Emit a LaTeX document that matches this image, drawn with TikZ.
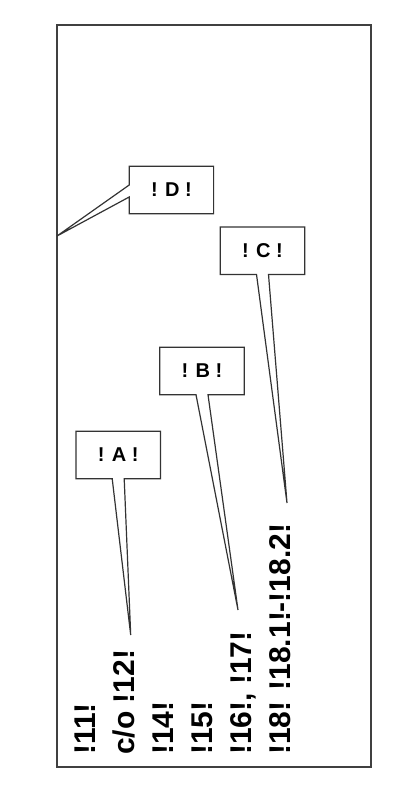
\documentclass[tikz,border=0pt]{standalone}
\usepackage{fontspec}
\setmainfont{Liberation Sans}
\usetikzlibrary{calc}

\begin{document}
\begin{tikzpicture}[x=1pt, y=-1pt,
    entry/.style={rotate=90, anchor=base west, inner sep=0pt,
      font=\fontsize{30}{30}\selectfont\bfseries},
    tag/.style={rectangle, minimum width=84pt, minimum height=47pt, inner sep=0pt,
      font=\fontsize{20}{20}\selectfont\bfseries},
    outline/.style={line width=1.2pt, black!80, line join=miter}]
  \useasboundingbox (0,0) rectangle (418,787);
  \draw[line width=1.6pt, black!75] (57,25) rectangle (371,767);

  % rotated entries along the bottom
  \node[entry] (e11) at (95,755) {!11!};
  \node[entry] (e12) at (134,755) {c/o !12!};
  \node[entry] (e14) at (173,755) {!14!};
  \node[entry] (e15) at (212,755) {!15!};
  \node[entry] (e16) at (251,755) {!16!, !17!};
  \node[entry] (e18) at (290,755) {!18! !18.1!-!18.2!};

  % callouts
  \node[tag] (boxD) at (171.4,190) {! D !};
  \coordinate (tipD) at (57,236);
  \draw[outline] (tipD) -- ($(boxD.west)+(0,-5)$) |- (boxD.north east) |- (boxD.south west)
    -- ($(boxD.west)+(0,7)$) -- (tipD);

  \node[tag] (boxC) at (262.5,250.7) {! C !};
  \coordinate (tipC) at (287,503);
  \draw[outline] (tipC) -- ($(boxC.south)+(-6,0)$) -| (boxC.north west) -| (boxC.south east)
    -- ($(boxC.south)+(6,0)$) -- (tipC);

  \node[tag] (boxB) at (202,371) {! B !};
  \coordinate (tipB) at (238,610);
  \draw[outline] (tipB) -- ($(boxB.south)+(-6,0)$) -| (boxB.north west) -| (boxB.south east)
    -- ($(boxB.south)+(6,0)$) -- (tipB);

  \node[tag] (boxA) at (118.2,455) {! A !};
  \coordinate (tipA) at (130.7,635);
  \draw[outline] (tipA) -- ($(boxA.south)+(-6,0)$) -| (boxA.north west) -| (boxA.south east)
    -- ($(boxA.south)+(6,0)$) -- (tipA);
\end{tikzpicture}
\end{document}
